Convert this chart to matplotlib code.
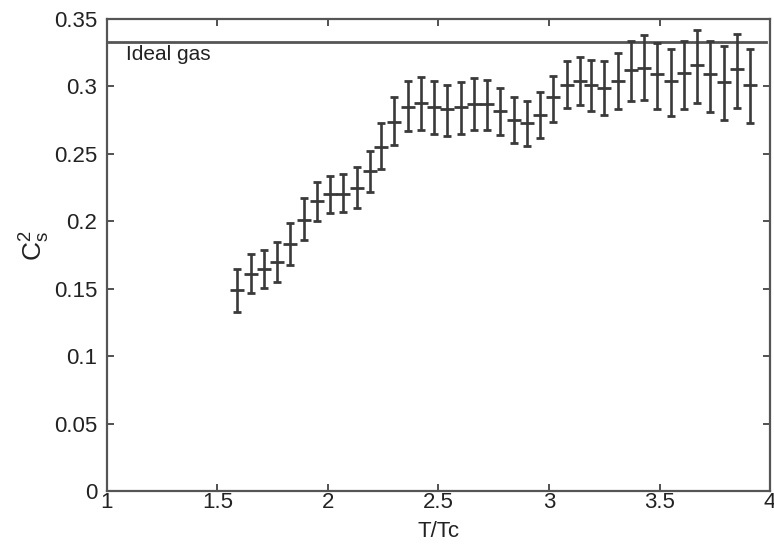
import numpy as np
import matplotlib.pyplot as plt

plt.rcParams['font.family'] = ['Liberation Sans', 'DejaVu Sans']
plt.rcParams['mathtext.fontset'] = 'custom'
plt.rcParams['mathtext.rm'] = 'Liberation Sans'
plt.rcParams['mathtext.it'] = 'Liberation Sans'

# ── Data ──────────────────────────────────────────────────────────────────────
t_tc = [1.59, 1.65, 1.71, 1.77, 1.83, 1.89, 1.95, 2.01, 2.07, 2.13,
        2.19, 2.24, 2.30, 2.36, 2.42, 2.48, 2.54, 2.60, 2.66, 2.72,
        2.78, 2.84, 2.90, 2.96, 3.02, 3.08, 3.14, 3.19, 3.25, 3.31,
        3.37, 3.43, 3.49, 3.55, 3.61, 3.67, 3.73, 3.79, 3.85, 3.91]
cs2 = [0.149, 0.161, 0.165, 0.170, 0.183, 0.201, 0.215, 0.220, 0.220, 0.225,
       0.237, 0.255, 0.274, 0.285, 0.288, 0.285, 0.283, 0.285, 0.287, 0.287,
       0.282, 0.275, 0.273, 0.279, 0.292, 0.301, 0.304, 0.301, 0.299, 0.304,
       0.312, 0.314, 0.309, 0.304, 0.310, 0.316, 0.309, 0.303, 0.313, 0.301]
err_hi = [0.165, 0.176, 0.179, 0.185, 0.199, 0.217, 0.229, 0.234, 0.235, 0.240,
          0.252, 0.273, 0.292, 0.304, 0.307, 0.304, 0.301, 0.303, 0.306, 0.305,
          0.299, 0.292, 0.289, 0.296, 0.308, 0.319, 0.322, 0.320, 0.319, 0.325,
          0.334, 0.338, 0.332, 0.328, 0.334, 0.342, 0.334, 0.330, 0.339, 0.328]
err_lo = [0.133, 0.147, 0.151, 0.155, 0.168, 0.186, 0.200, 0.206, 0.207, 0.210,
          0.222, 0.239, 0.257, 0.267, 0.268, 0.265, 0.263, 0.265, 0.268, 0.268,
          0.264, 0.258, 0.256, 0.262, 0.274, 0.284, 0.286, 0.282, 0.279, 0.283,
          0.289, 0.290, 0.283, 0.278, 0.283, 0.288, 0.281, 0.275, 0.284, 0.273]
IDEAL_GAS = 1.0 / 3.0

cs2 = np.array(cs2)
yerr = [cs2 - np.array(err_lo), np.array(err_hi) - cs2]

# ── Plot ──────────────────────────────────────────────────────────────────────
fig = plt.figure(figsize=(7.74, 5.44), dpi=100)
ax = fig.add_axes([0.138, 0.097, 0.857, 0.868])

ax.plot([1.0, 3.98], [IDEAL_GAS, IDEAL_GAS], color="#555555", lw=2)
ax.text(1.085, 0.3305, "Ideal gas", fontsize=15, va="top", ha="left", color="#222222")

ax.errorbar(t_tc, cs2, yerr=yerr, fmt="_", color="#3a3a3a", ms=9.5, mew=2,
            elinewidth=1.9, capsize=3.2, capthick=2)

ax.set_xlim(1, 4)
ax.set_ylim(0, 0.35)
ax.set_xticks([1, 1.5, 2, 2.5, 3, 3.5, 4])
ax.set_xticklabels(["1", "1.5", "2", "2.5", "3", "3.5", "4"])
ax.set_yticks([0, 0.05, 0.1, 0.15, 0.2, 0.25, 0.3, 0.35])
ax.set_yticklabels(["0", "0.05", "0.1", "0.15", "0.2", "0.25", "0.3", "0.35"])
ax.tick_params(direction="in", top=True, right=True, length=5, width=1.2,
               color="#333333", labelsize=16, labelcolor="#222222")
ax.tick_params(axis="x", pad=0.5)
ax.tick_params(axis="y", pad=7)
for s in ax.spines.values():
    s.set_color("#555555")
    s.set_linewidth(1.6)

ax.set_xlabel("T/Tc", fontsize=16, color="#222222", labelpad=6)
ax.set_ylabel(r"$\mathrm{C_s^2}$", fontsize=19, color="#222222")
ax.yaxis.set_label_coords(-0.083, 0.52)

plt.savefig("out.png", dpi=100)
plt.close()
